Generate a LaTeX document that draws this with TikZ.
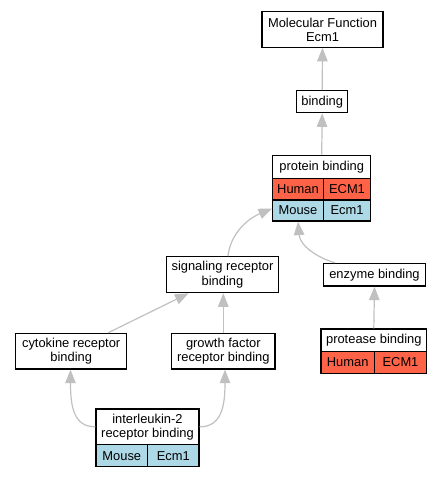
\documentclass[tikz,border=0pt]{standalone}
\usepackage{fontspec}
\setmainfont{Liberation Sans}
\usepackage{tikz}
\usetikzlibrary{arrows.meta}
\definecolor{human}{HTML}{FF6347}
\definecolor{mouse}{HTML}{ADD8E6}
\definecolor{edgegray}{HTML}{C0C0C0}
\tikzstyle{term}=[draw, line width=1.2pt, fill=white, inner sep=0pt, align=center, font=\fontsize{12.9}{14.2}\selectfont]
\tikzstyle{hcell}=[term, fill=human]
\tikzstyle{mcell}=[term, fill=mouse]
\tikzstyle{isa}=[draw=edgegray, line width=1.2pt, -{Triangle[length=13.5pt,width=10.5pt]}]

\begin{document}
\begin{tikzpicture}[x=1pt,y=-1pt]
\useasboundingbox (0,0) rectangle (441,477);
% terms
\node[term, minimum width=121pt, minimum height=35.5pt] (mf) at (322.5,29.5) {Molecular Function\\Ecm1};
\node[term, minimum width=51pt, minimum height=22pt] (bind) at (322.2,101.7) {binding};
\node[term, minimum width=98pt, minimum height=23pt] (pb) at (321.7,166.8) {protein binding};
\node[hcell, minimum width=50.6pt, minimum height=21.7pt] (pbh) at (298,189.2) {Human};
\node[hcell, minimum width=47.4pt, minimum height=21.7pt] (pbhg) at (347,189.2) {ECM1};
\node[mcell, minimum width=50.6pt, minimum height=21pt] (pbm) at (298,210.5) {Mouse};
\node[mcell, minimum width=47.4pt, minimum height=21pt] (pbmg) at (347,210.5) {Ecm1};
\node[term, minimum width=111.6pt, minimum height=36pt] (sig) at (222.5,274.7) {signaling receptor\\binding};
\node[term, minimum width=102.4pt, minimum height=22.7pt] (enz) at (374.5,274.7) {enzyme binding};
\node[term, minimum width=111pt, minimum height=35.7pt] (cyto) at (71.2,351.2) {cytokine receptor\\binding};
\node[term, minimum width=103.3pt, minimum height=35.7pt] (grow) at (223.3,351.2) {growth factor\\receptor binding};
\node[term, minimum width=105.7pt, minimum height=22.7pt] (prot) at (373.8,340.3) {protease binding};
\node[hcell, minimum width=53.3pt, minimum height=21.6pt] (proth) at (347.7,362.5) {Human};
\node[hcell, minimum width=52.4pt, minimum height=21.6pt] (prothg) at (400.5,362.5) {ECM1};
\node[term, minimum width=103pt, minimum height=35.7pt] (il) at (147.5,426.8) {interleukin-2\\receptor binding};
\node[mcell, minimum width=51.7pt, minimum height=22pt] (ilm) at (121.8,455.7) {Mouse};
\node[mcell, minimum width=51.3pt, minimum height=22pt] (ilmg) at (173.3,455.7) {Ecm1};
% is_a edges
\draw[isa] (bind.north) -- (mf.south);
\draw[isa] (pb.north) -- (bind.south);
\draw[isa] ([xshift=5.5pt]sig.north) .. controls (230,236) and (245,220) .. ([yshift=2pt]pbm.west);
\draw[isa] ([xshift=-39.5pt]enz.north) .. controls (318,258) and (300,246) .. (pbm.south);
\draw[isa] (prot.north) -- (enz.south);
\draw[isa] ([xshift=37pt]cyto.north) -- ([xshift=-34pt]sig.south);
\draw[isa] (grow.north) -- (grow.north |- sig.south);
\draw[isa] (il.west) .. controls (73,427) and (70.5,405) .. ([xshift=-0.7pt]cyto.south);
\draw[isa] (il.east) .. controls (222,427) and (225,405) .. ([xshift=1.7pt]grow.south);
\end{tikzpicture}
\end{document}
